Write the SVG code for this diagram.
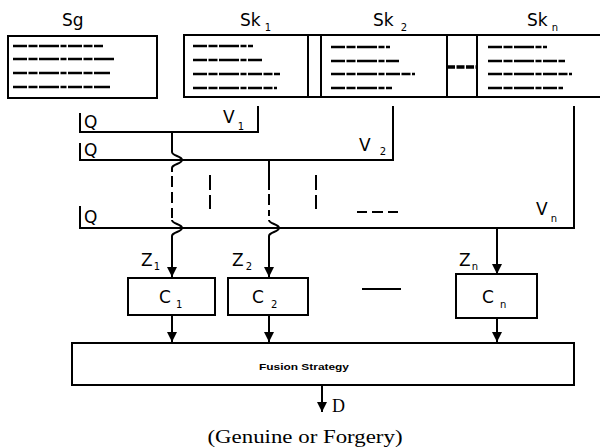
<svg xmlns="http://www.w3.org/2000/svg" width="600" height="447" viewBox="0 0 600 447">
<style>
.bx{fill:#fff;stroke:#000;stroke-width:2}
.ln{fill:none;stroke:#000;stroke-width:2}
.dl{fill:none;stroke:#000;stroke-width:2;stroke-dasharray:11 5}
.sc{fill:none;stroke:#000;stroke-width:2.6;stroke-dasharray:14 1.5 9 1.5 20 1.5 6 1.5}
.t{font-family:"DejaVu Sans","Liberation Sans",sans-serif;font-size:17px;fill:#000}
.s{font-size:10px}
.sr{font-family:"Liberation Serif",serif;fill:#000}
</style>
<defs>
<marker id="ah" viewBox="0 0 10 10" refX="10" refY="5" markerWidth="10" markerHeight="10" markerUnits="userSpaceOnUse" orient="auto">
<path d="M0,0 L10,5 L0,10 z" fill="#000"/>
</marker>
</defs>
<rect width="600" height="447" fill="#fff"/>

<g id="sg">
<text class="t" x="62" y="26">Sg</text>
<rect class="bx" x="8" y="36" width="149" height="62"/>
<path class="sc" d="M13 46H103M13 59H115M13 73H110M13 87H110"/>
</g>

<g id="sk-strip">
<rect class="bx" x="184" y="35" width="420" height="62"/>
<path class="ln" d="M308 35V97M321 35V97M447 35V97M477 35V97"/>
<path d="M447 67H477" stroke="#000" stroke-width="3.5" stroke-dasharray="8 1.5"/>
</g>

<g id="sk1">
<text class="t" x="240" y="26">Sk<tspan class="s" dx="4" dy="5">1</tspan></text>
<path class="sc" d="M193 46H253M193 60H263M193 74H280M193 88H277"/>
</g>
<g id="sk2">
<text class="t" x="373" y="26">Sk<tspan class="s" dx="7" dy="5">2</tspan></text>
<path class="sc" d="M331 47H390M331 61H399M331 74H415M331 88H392"/>
</g>
<g id="skn">
<text class="t" x="527" y="26">Sk<tspan class="s" dx="4" dy="5">n</tspan></text>
<path class="sc" d="M488 47H547M488 61H565M488 74H572M488 88H563"/>
</g>

<g id="q-labels">
<text class="t" x="84" y="128">Q</text>
<text class="t" x="84" y="156">Q</text>
<text class="t" x="84" y="223">Q</text>
<text class="t" x="223" y="123" font-size="16">V<tspan class="s" dx="3" dy="7">1</tspan></text>
<text class="t" x="359" y="151" font-size="16">V<tspan class="s" dx="9" dy="4">2</tspan></text>
<text class="t" x="536" y="215" font-size="16">V<tspan class="s" dx="3" dy="7">n</tspan></text>
</g>

<g id="connectors">
<path class="ln" d="M80 113V132H258V106"/>
<path class="ln" d="M80 143V160H393V106"/>
<path class="ln" d="M80 206V228H574V106"/>
<path class="ln" d="M172 132V152C172 156 182 156 182 160C182 164 172 164 172 168V172"/>
<path class="dl" d="M172 176V218"/>
<path class="ln" d="M172 220C172 224 182 224 182 228C182 232 172 232 172 236V277" marker-end="url(#ah)"/>
<path class="ln" d="M269 160V190"/>
<path class="dl" d="M269 194V216"/>
<path class="ln" d="M269 220C269 224 279 224 279 228C279 232 269 232 269 236V277" marker-end="url(#ah)"/>
<path class="ln" d="M497 228V274" marker-end="url(#ah)"/>
<path class="ln" d="M172 315V342" marker-end="url(#ah)"/>
<path class="ln" d="M269 315V342" marker-end="url(#ah)"/>
<path class="ln" d="M497 318V342" marker-end="url(#ah)"/>
<path class="ln" d="M322 385V412" marker-end="url(#ah)"/>
<path class="ln" d="M210 175V190M210 195V209M316 175V190M316 195V209"/>
<path class="ln" d="M357 212H367M372 212H383M388 212H398"/>
<path class="ln" d="M362 289H401"/>
</g>

<g id="z-labels">
<text class="t" x="141" y="266">Z<tspan class="s" dx="1" dy="4">1</tspan></text>
<text class="t" x="232" y="266">Z<tspan class="s" dx="2" dy="4">2</tspan></text>
<text class="t" x="459" y="266">Z<tspan class="s" dx="1" dy="4">n</tspan></text>
</g>

<g id="c1">
<rect class="bx" x="128" y="278" width="87" height="37"/>
<text class="t" x="159" y="303" font-size="14">C<tspan class="s" dx="5" dy="5">1</tspan></text>
</g>
<g id="c2">
<rect class="bx" x="228" y="278" width="80" height="37"/>
<text class="t" x="252" y="303" font-size="14">C<tspan class="s" dx="7" dy="5">2</tspan></text>
</g>
<g id="cn">
<rect class="bx" x="456" y="274" width="81" height="44"/>
<text class="t" x="482" y="303" font-size="14">C<tspan class="s" dx="6" dy="5">n</tspan></text>
</g>

<g id="fusion">
<rect class="bx" x="72" y="343" width="502" height="42"/>
<text x="304" y="370" text-anchor="middle" font-family="Liberation Sans,sans-serif" font-weight="bold" font-size="9" textLength="90" lengthAdjust="spacingAndGlyphs">Fusion Strategy</text>
</g>

<g id="output">
<text class="sr" x="332" y="412" font-size="18">D</text>
<text class="sr" x="305" y="443" font-size="18" text-anchor="middle" textLength="195" lengthAdjust="spacingAndGlyphs">(Genuine or Forgery)</text>
</g>
</svg>
